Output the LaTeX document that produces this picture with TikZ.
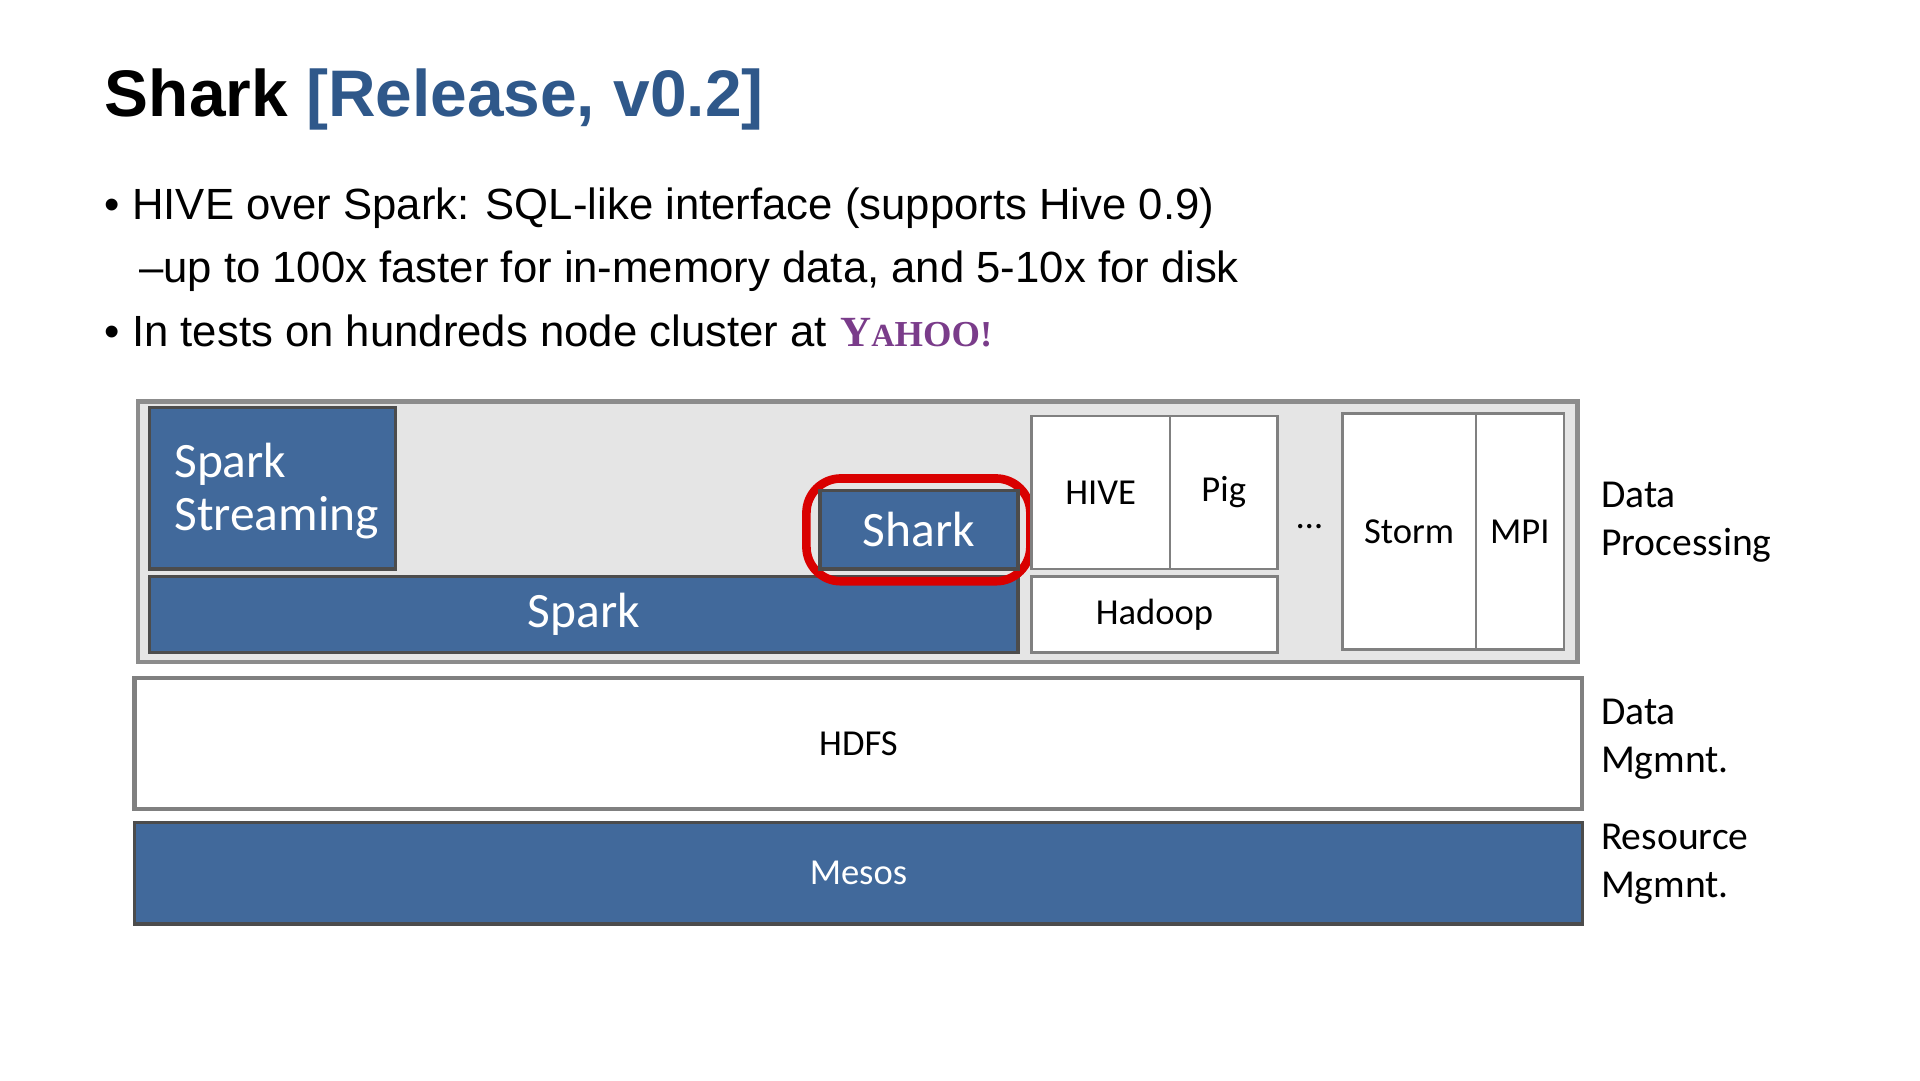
\documentclass[tikz,border=0pt]{standalone}
\usepackage{fontspec}
\setmainfont{Liberation Sans}
\newfontfamily\calfont{Carlito}
\newfontfamily\yser{Liberation Serif}
\definecolor{sblue}{RGB}{65,105,155}
\definecolor{tblue}{RGB}{47,88,138}
\definecolor{ypurple}{RGB}{122,60,138}
\begin{document}
\begin{tikzpicture}[x=0.01cm,y=-0.01cm,
  bluebox/.style={draw=black!70,fill=sblue,line width=0.8pt},
  whitebox/.style={draw=black!50,fill=white,line width=0.6pt},
  big/.style={font=\calfont\fontsize{11.5}{13}\selectfont,text=white,align=left},
  sm/.style={font=\calfont\fontsize{8.5}{11}\selectfont,align=left},
  side/.style={font=\calfont\fontsize{9.2}{11.2}\selectfont,align=left,anchor=west}]
\useasboundingbox (0,0) rectangle (1569,883);
\node[anchor=base west,inner sep=0,font=\bfseries\fontsize{15.3}{18}\selectfont] (title) at (85,95) {Shark \textcolor{tblue}{[Release, v0.2]}};
\node[anchor=base west,inner sep=0,font=\fontsize{10.15}{12}\selectfont] (b1) at (85,179) {\textbullet\ HIVE over Spark: SQL-like interface (supports Hive 0.9)};
\node[anchor=base west,inner sep=0,font=\fontsize{10.15}{12}\selectfont] (b2) at (113,231) {--up to 100x faster for in-memory data, and 5-10x for disk};
\node[anchor=base west,inner sep=0,font=\fontsize{10.15}{12}\selectfont] (b3) at (85,283) {\textbullet\ In tests on hundreds node cluster at};
\node[anchor=base west,inner sep=0,text=ypurple,font=\yser\bfseries] (yahoo) at (686,283) {{\fontsize{10}{12}\selectfont Y}{\fontsize{7.5}{9}\selectfont A}{\fontsize{8.5}{10}\selectfont HOO!}};
% outer
\draw[draw=black!45,fill=black!10,line width=1pt] (113,328) rectangle (1289,541);
\draw[bluebox] (122,333) rectangle (323,465);
\node[big,anchor=west,font=\calfont\fontsize{11.5}{12.3}\selectfont] (sst) at (130,401) {Spark\\Streaming};
\draw[bluebox] (122,471) rectangle node[big] (spark) {Spark} (832,533);
\draw[red!85!black,line width=2pt,rounded corners=8pt] (659,391) rectangle (842,475);
\draw[bluebox] (670,401) rectangle node[big] (shark) {Shark} (832,465);
\draw[whitebox] (843,340) rectangle node[sm] (hive) {HIVE} (956,465);
\draw[whitebox] (956,340) rectangle node[sm] (pig) {Pig} (1044,465);
\draw[whitebox] (843,471) rectangle node[sm] (hadoop) {Hadoop} (1044,533);
\node[sm] (dots) at (1070,430) {\dots};
\draw[whitebox] (1097,338) rectangle node[sm] (storm) {Storm} (1206,531);
\draw[whitebox] (1206,338) rectangle node[sm] (mpi) {MPI} (1278,531);
\draw[whitebox,line width=1pt] (110,554) rectangle node[sm] (hdfs) {HDFS} (1293,661);
\draw[bluebox] (110,672) rectangle node[sm,text=white] (mesos) {Mesos} (1293,755);
\node[side] (l1) at (1296,427) {Data\\Processing};
\node[side] (l2) at (1296,604) {Data\\Mgmnt.};
\node[side] (l3) at (1296,706) {Resource\\Mgmnt.};
\end{tikzpicture}
\end{document}
